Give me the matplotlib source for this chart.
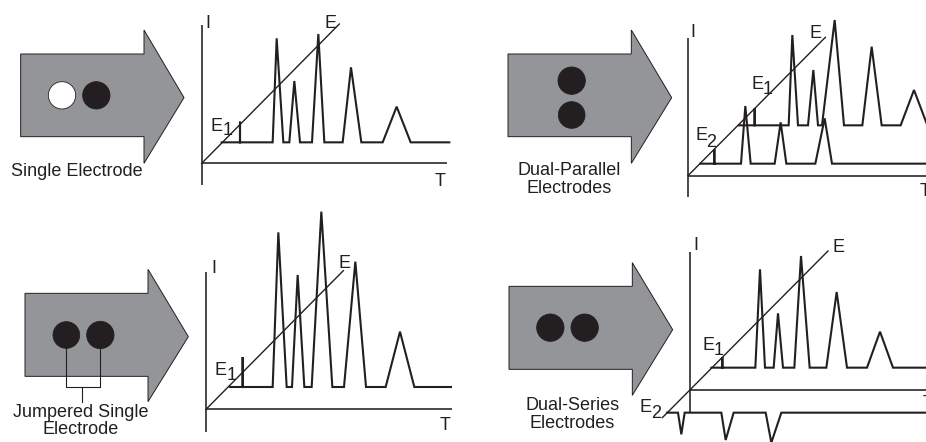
import matplotlib
matplotlib.use("Agg")
import matplotlib.pyplot as plt
from matplotlib.patches import Polygon, Circle

plt.rcParams['font.family'] = ['Liberation Sans', 'DejaVu Sans']
INK = '#231f20'
GREY = '#939598'
W, H = 926, 442
Z = 3.0  # trace units are thirds of a pixel

# Panel 1: Single Electrode
single_t = [60,115,115,115,213,225,245,263,278,295,331,350,368,423,448,479,543,585,627,743]
single_i = [63,63,125,63,63,375,63,63,247,63,63,388,63,63,288,63,63,170,63,63]

# Panel 2: Dual-Parallel Electrodes
par1_t = [153,200,200,200,302,313,330,360,376,390,402,440,468,523,551,581,638,678,718,760]
par1_i = [151,151,202,151,151,422,151,151,317,151,151,467,151,151,387,151,151,257,151,151]
par2_t = [37,79,79,79,159,172,188,260,278,295,382,410,432,730]
par2_i = [36,36,80,36,36,209,36,36,160,36,36,172,36,36]

# Panel 3: Jumpered Single Electrode
jump_t = [72,110,110,110,200,217,242,258,275,295,317,346,379,414,448,480,539,582,625,735]
jump_i = [67,67,157,67,67,531,67,67,403,67,67,593,67,67,443,67,67,233,67,67]

# Panel 4: Dual-Series Electrodes
ser1_t = [65,98,98,98,197,211,226,252,265,280,314,334,360,410,441,472,532,571,610,730]
ser1_i = [67,67,99,67,67,362,67,67,230,67,67,402,67,67,294,67,67,175,67,67]
ser2_t = [-68,-35,-25,-15,95,108,132,228,245,275,730]
ser2_i = [-68,-68,-133,-68,-68,-150,-68,-68,-158,-68,-68]

fig = plt.figure(figsize=(W/100, H/100), dpi=100)
fig.patch.set_facecolor('white')

bg = fig.add_axes([0, 0, 1, 1])
bg.set_xlim(0, W)
bg.set_ylim(H, 0)
bg.axis('off')


def chart(ox, oy, i_top, i_bot, t_right, e_from, e_to, traces):
    """Axes spanning the figure, with its origin at the I/T axis crossing."""
    ax = fig.add_axes([0, 0, 1, 1])
    ax.patch.set_alpha(0)
    ax.axis('off')
    ax.set_xlim(-ox*Z, (W-ox)*Z)
    ax.set_ylim(-(H-oy)*Z, oy*Z)
    ax.plot([0, 0], [i_bot, i_top], color=INK, lw=1.15, solid_capstyle='butt')
    ax.plot([0, t_right], [0, 0], color=INK, lw=1.15, solid_capstyle='butt')
    ax.plot([e_from[0], e_to[0]], [e_from[1], e_to[1]], color=INK, lw=1.0)
    for t, i in traces:
        ax.plot(t, i, color=INK, lw=1.5, solid_joinstyle='miter')


def arrow(dx, dy, pts, circles):
    poly = [(dx + x/Z, dy + y/Z) for x, y in pts]
    bg.add_patch(Polygon(poly, closed=True, fc=GREY, ec=INK, lw=0.7))
    for x, y, r, c in circles:
        bg.add_patch(Circle((dx + x/Z, dy + y/Z), r/Z, fc=c, ec=INK, lw=0.6, zorder=3))


def label(dx, dy, x, y, s, ha='left', fs=13):
    bg.text(dx + x/Z, dy + y/Z, s, ha=ha, va='baseline', fontsize=fs, color=INK)


# ---------- Panel 1
arrow(0, 0, [(62,162),(432,162),(432,90),(552,293),(432,490),(432,410),(62,410)],
      [(186,286,41,'white'), (289,286,41,INK)])
chart(605/Z, 490/Z, 415, -65, 737, (0,0), (413,418), [(single_t, single_i)])
for x, y, s in [(617,85,'I'), (972,85,'E'), (633,392,'E'), (668,405,'1'), (1303,558,'T')]:
    label(0, 0, x, y, s)
label(0, 0, 33, 527, 'Single Electrode')

# ---------- Panel 2
arrow(463, 0, [(135,162),(505,162),(505,90),(626,293),(505,490),(505,410),(135,410)],
      [(326,242,41,INK), (326,345,40,INK)])
chart(463+675/Z, 527/Z, 414, -65, 720, (0,0), (412,415), [(par1_t, par1_i), (par2_t, par2_i)])
for x, y, s in [(683,110,'I'), (1040,115,'E'), (865,267,'E'), (900,282,'1'),
                (697,420,'E'), (729,440,'2'), (1370,587,'T')]:
    label(463, 0, x, y, s)
label(463, 0, 318, 525, 'Dual-Parallel', ha='center')
label(463, 0, 318, 578, 'Electrodes', ha='center')

# ---------- Panel 3
arrow(0, 205, [(75,265),(444,265),(444,193),(565,395),(444,590),(444,514),(75,514)],
      [(199,390,40,INK), (301,390,41,INK)])
bg.plot([199/Z, 199/Z, 301/Z, 301/Z], [205+430/Z, 205+547/Z, 205+547/Z, 205+430/Z], color=INK, lw=0.8)
bg.plot([247/Z, 247/Z], [205+547/Z, 205+590/Z], color=INK, lw=0.8)
chart(618/Z, 205+613/Z, 413, -67, 737, (0,0), (412,416), [(jump_t, jump_i)])
for x, y, s in [(633,203,'I'), (1015,190,'E'), (645,510,'E'), (680,525,'1'), (1320,675,'T')]:
    label(0, 205, x, y, s)
label(0, 205, 243, 635, 'Jumpered Single', ha='center')
label(0, 205, 243, 688, 'Electrode', ha='center')

# ---------- Panel 4
arrow(463, 221, [(138,196),(508,196),(508,125),(629,326),(508,523),(508,445),(138,445)],
      [(262,320,41,INK), (365,320,41,INK)])
chart(463+680/Z, 221+507/Z, 415, -68, 720, (-82,-83), (415,417), [(ser1_t, ser1_i), (ser2_t, ser2_i)])
for x, y, s in [(692,87,'I'), (1108,92,'E'), (718,388,'E'), (753,402,'1'),
                (530,572,'E'), (565,590,'2'), (1380,560,'T')]:
    label(463, 221, x, y, s)
label(463, 221, 328, 567, 'Dual-Series', ha='center')
label(463, 221, 328, 620, 'Electrodes', ha='center')

fig.savefig('out.png', dpi=100)
